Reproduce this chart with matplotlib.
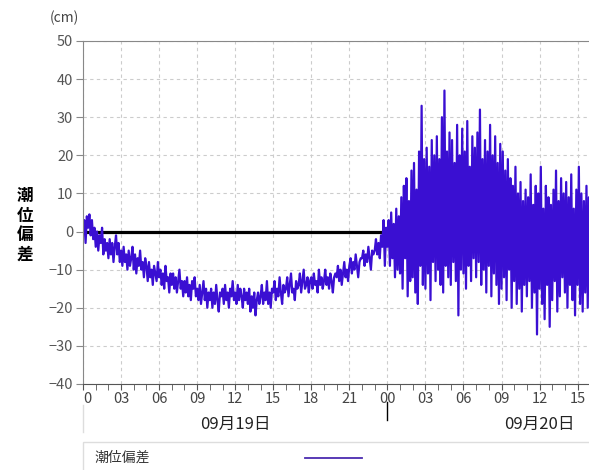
import numpy as np
import matplotlib
matplotlib.use("Agg")
import matplotlib.pyplot as plt
import matplotlib.transforms as mtransforms
from matplotlib.patches import Rectangle

plt.rcParams['font.family'] = ['Noto Sans CJK JP', 'DejaVu Sans']

# 潮位偏差 (cm), 6分間隔, 09月19日 00:00 から
dev_0919 = [
    0, 3, -3, 4, 1, 4.5, -1, 3, -2, 1,
    -4, 0, -5, -1, -3, 1, -6, -2, -5, -3,
    -7, -2, -6, -3, -8, -4, -1, -6, -3, -8,
    -5, -9, -4, -8, -6, -10, -5, -9, -7, -4,
    -10, -6, -11, -7, -9, -5, -10, -8, -12, -7,
    -9, -13, -8, -12, -10, -14, -9, -11, -13, -8,
    -12, -10, -14, -11, -15, -9, -13, -12, -16, -11,
    -14, -11, -15, -12, -16, -13, -10, -15, -13, -17,
    -13, -16, -12, -17, -14, -18, -13, -15, -12, -17,
    -15, -18, -14, -19, -16, -13, -18, -15, -20, -16,
    -18, -15, -20, -16, -19, -14, -18, -21, -16, -17,
    -15, -19, -14, -18, -16, -20, -15, -17, -13, -18,
    -16, -19, -14, -18, -15, -17, -20, -15, -18, -16,
    -19, -15, -21, -17, -20, -16, -22, -18, -16, -19,
    -17, -14, -19, -16, -18, -13, -19, -16, -20, -15,
    -16, -13, -18, -15, -17, -12, -16, -19, -14, -16,
    -15, -12, -17, -14, -11, -16, -15, -18, -13, -15,
    -14, -11, -16, -13, -10, -15, -14, -12, -16, -13,
    -12, -15, -11, -14, -13, -16, -10, -14, -12, -15,
    -13, -10, -14, -12, -15, -11, -13, -16, -12, -11,
    -12, -9, -13, -10, -14, -11, -8, -12, -10, -13,
    -9, -7, -11, -8, -10, -6, -9, -12, -8, -7,
    -7, -5, -9, -6, -8, -4, -7, -10, -5, -6,
    -5, -2, -6, -3, -7, -1, -4, 3, -9, 1,
]
dev_0920 = [
    -4, 3, -9, 5, -7, 2, -12, 6, -10, 4,
    -11, 9, -15, 12, -7, 14, -17, 8, -13, 16,
    -12, 18, -16, 11, -19, 21, -9, 33, -14, 19,
    -15, 22, -11, 17, -18, 24, -8, 20, -13, 25,
    -10, 19, -14, 30, -16, 37, -9, 21, -12, 26,
    -14, 24, -8, 18, -13, 28, -22, 20, -10, 27,
    -11, 21, -15, 29, -9, 17, -13, 25, -7, 22,
    -12, 26, -8, 32, -14, 19, -10, 24, -16, 21,
    -9, 28, -17, 20, -11, 25, -14, 18, -19, 23,
    -15, 21, -12, 16, -18, 19, -10, 14, -20, 12,
    -13, 17, -19, 10, -15, 13, -21, 8, -14, 11,
    -17, 9, -13, 15, -20, 7, -16, 12, -27, 10,
    -15, 17, -19, 6, -23, 12, -14, 9, -25, 7,
    -18, 11, -13, 16, -21, 8, -17, 14, -12, 10,
    -16, 13, -20, 9, -14, 15, -18, 6, -22, 11,
    -14, 17, -19, 10, -21, 8, -16, 12, -20, 9,
    -15,
]
tick_hours = list(range(0, 40, 3))
tick_labels = ["0", "03", "06", "09", "12", "15", "18", "21",
               "00", "03", "06", "09", "12", "15"]
date_labels = ["09月19日", "09月20日"]
date_hours = [12, 36]

values = np.array(dev_0919 + dev_0920, dtype=float)
hours = np.arange(len(values)) / 10.0

fig = plt.figure(figsize=(5.89, 4.70), dpi=100)
ax = fig.add_axes([0.141, 0.183, 0.859, 0.7298])

ax.axhline(0, color="black", lw=2.3, zorder=1)
ax.plot(hours, values, color="#3a0fd2", lw=1.6, zorder=2)

ax.set_xlim(0, 39.9)
ax.set_ylim(-40, 50)
ax.set_yticks(range(-40, 51, 10))
ax.set_xticks(tick_hours)
ax.set_xticklabels(tick_labels)
ax.set_xticks(range(0, 40), minor=True)

ax.grid(True, color="#cccccc", ls=(0, (3, 3)), lw=0.8)
ax.set_axisbelow(True)
for s in ["left", "top"]:
    ax.spines[s].set_color("#888888")
ax.spines["bottom"].set_color("#555555")
ax.spines["right"].set_visible(False)

ax.tick_params(axis="y", direction="out", length=5, color="#888888",
               labelsize=10.5, labelcolor="#555555", pad=2)
ax.tick_params(axis="x", which="both", direction="out", length=4,
               color="#555555", labelsize=10.5, labelcolor="#444444", pad=2)
ax.get_xticklabels()[0].set_horizontalalignment("left")

trans = mtransforms.blended_transform_factory(ax.transData, ax.transAxes)
for h, lab in zip(date_hours, date_labels):
    ax.text(h, -0.117, lab, transform=trans, ha="center", va="center",
            fontsize=12, color="#222222")
ax.plot([24, 24], [-0.052, -0.105], transform=trans, color="black",
        lw=1, clip_on=False)
ax.plot([0, 0], [-0.06, -0.14], transform=trans, color="#dddddd",
        lw=1, clip_on=False)

fig.text(0.109, 0.962, "(cm)", fontsize=10, color="#444444",
         ha="center", va="center")
fig.text(0.043, 0.52, "潮\n位\n偏\n差", fontsize=12, fontweight="bold",
         ha="center", va="center", linespacing=1.12)

fig.patches.append(Rectangle((0.141, -0.02), 0.9, 0.0796,
                             transform=fig.transFigure, facecolor="white",
                             edgecolor="#dddddd", lw=1))
fig.text(0.161, 0.0255, "潮位偏差", fontsize=10, color="#333333",
         va="center")
fig.lines.append(plt.Line2D([0.518, 0.615], [0.0255, 0.0255],
                            transform=fig.transFigure, color="#4b2bb0",
                            lw=1.3))

fig.savefig("out.png", dpi=100)
